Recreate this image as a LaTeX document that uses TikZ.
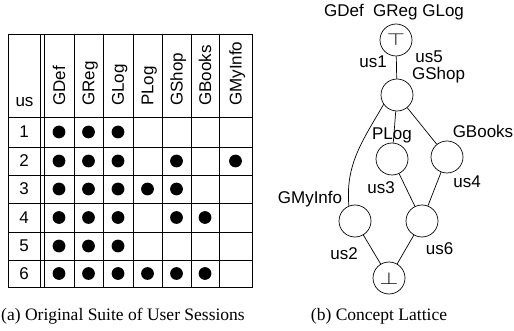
\documentclass[tikz,border=0pt]{standalone}
\usepackage{fontspec}
\setmainfont{Liberation Serif}
\setsansfont{Liberation Sans}

\begin{document}
\begin{tikzpicture}[
  x=1pt, y=-1pt,
  txt/.style={font=\fontsize{17}{20}\selectfont\sffamily, inner sep=0pt},
  hdr/.style={txt, rotate=90, anchor=west, text depth=0pt},
  concept/.style={circle, draw, line width=0.7pt, minimum size=32pt, inner sep=0pt},
  subcap/.style={font=\fontsize{17.5}{20}\selectfont\rmfamily, inner sep=0pt},
  grid/.style={line width=0.6pt},
  edge/.style={line width=0.7pt}
]
\useasboundingbox (0,0) rectangle (514,331);

% table of sessions
\draw[grid] (8,34) rectangle (252,287);
\foreach \x in {40,44,74,103,133,162,191,219}
  \draw[grid] (\x,34) -- (\x,287);
\foreach \y in {117,147,175,203,232,260}
  \draw[grid] (8,\y) -- (252,\y);

\node[txt, anchor=base] (hus) at (24.5,107) {us};
\foreach \c/\x/\name in {1/59/GDef, 2/88.5/GReg, 3/118/GLog, 4/147.5/PLog,
                         5/176.5/GShop, 6/205/GBooks, 7/235.5/GMyInfo}
  \node[hdr] (h\c) at (\x,106) {\name};

\foreach \r/\y in {1/132, 2/161, 3/189, 4/217.5, 5/246, 6/273.5}
  \node[txt] (r\r) at (24,\y) {\r};

\foreach \r/\cols in {1/{1,2,3}, 2/{1,2,3,5,7}, 3/{1,2,3,4,5},
                      4/{1,2,3,5,6}, 5/{1,2,3}, 6/{1,2,3,4,5,6}}
  \foreach \c in \cols
    \fill (h\c |- r\r) circle (6.4pt);

% concept lattice
\node[concept] (top) at (396,40) {\fontsize{19}{19}\selectfont\scalebox{1.35}[1]{$\top$}};
\node[concept] (gshop) at (397,95) {};
\node[concept] (plog) at (392,159) {};
\node[concept] (gbooks) at (447,157) {};
\node[concept] (gmyinfo) at (355,221) {};
\node[concept] (c6) at (422,221) {};
\node[concept] (bot) at (389,278) {\fontsize{19}{19}\selectfont\scalebox{1.4}[1]{$\bot$}};

\draw[edge] (top) -- (gshop);
\draw[edge] (gshop) -- (plog);
\draw[edge] (gshop) -- (gbooks);
\draw[edge] (gshop.215) to[out=240, in=95] (gmyinfo.112);
\draw[edge] (plog) -- (c6);
\draw[edge] (gbooks) -- (c6);
\draw[edge] (gmyinfo) -- (bot);
\draw[edge] (c6) -- (bot);

% attribute and object labels
\node[txt] (ltop) at (394,12) {GDef~~GReg GLog};
\node[txt] (lus1) at (373,62) {us1};
\node[txt] (lus5) at (429,57) {us5};
\node[txt] (lgshop) at (438.5,75.5) {GShop};
\node[txt] (lplog) at (392,135.5) {PLog};
\node[txt] (lgbooks) at (483,131) {GBooks};
\node[txt] (lus3) at (381,188) {us3};
\node[txt] (lus4) at (467,181.5) {us4};
\node[txt] (lgmyinfo) at (310,199) {GMyInfo};
\node[txt] (lus2) at (344,254) {us2};
\node[txt] (lus6) at (439.5,248.5) {us6};

% captions
\node[subcap] (capa) at (123,316) {(a) Original Suite of User Sessions};
\node[subcap] (capb) at (379,316) {(b) Concept Lattice};
\end{tikzpicture}
\end{document}
